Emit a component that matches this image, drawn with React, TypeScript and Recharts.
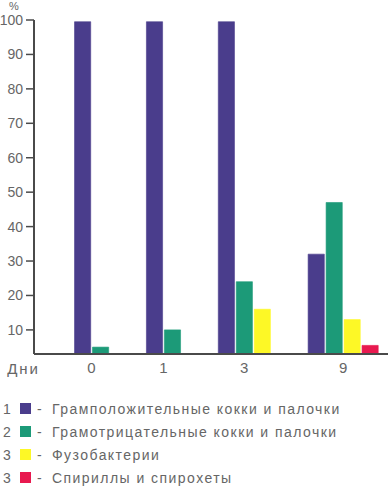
import React from 'react';
import { BarChart, Bar, XAxis, YAxis, Cell } from 'recharts';

const days = ['0', '1', '3', '9'];
const gramPositive = [99.5, 99.5, 99.5, 32];
const gramNegative = [5, 10, 24, 47];
const fusobacteria: (number | null)[] = [null, null, 16, 13];
const spirilla: (number | null)[] = [null, null, null, 5.5];
const yTicks = [10, 20, 30, 40, 50, 60, 70, 80, 90, 100];

const seriesNames = [
  'Грамположительные кокки и палочки',
  'Грамотрицательные кокки и палочки',
  'Фузобактерии',
  'Спириллы и спирохеты',
];
const legendNumbers = ['1', '2', '3', '3'];
const colors = ['#4a3d8c', '#1c9a78', '#fdf826', '#e8194f'];

const seriesValues = [gramPositive, gramNegative, fusobacteria, spirilla];

// Build bar slots: each non-empty value gets a slot; groups separated by 2 empty slots
type Slot = { pos: number; value: number; series: number; day: string };
const slots: Slot[] = [];
const groupCenters: number[] = [];
let cursor = 0;
days.forEach((d, i) => {
  const start = cursor;
  seriesValues.forEach((vals, s) => {
    const v = vals[i];
    if (v !== null && v !== undefined) {
      slots.push({ pos: cursor, value: v, series: s, day: d });
      cursor += 1;
    }
  });
  groupCenters.push((start + cursor - 1) / 2);
  cursor += 2;
});

const textColor = '#666666';
const axisColor = '#4a4a4a';
const font = '"Liberation Sans", Arial, sans-serif';

export default function App() {
  return (
    <div style={{ position: 'absolute', left: 0, top: 0, width: 390, height: 500, background: '#fff', fontFamily: font }}>
      <BarChart
        width={390}
        height={390}
        data={slots}
        margin={{ top: 20, right: 2, bottom: 6, left: 0 }}
      >
        <YAxis
          type="number"
          domain={[3, 100]}
          allowDataOverflow
          ticks={yTicks}
          width={34}
          axisLine={{ stroke: axisColor, strokeWidth: 2 }}
          tickLine={{ stroke: axisColor, strokeWidth: 1.5 }}
          tickSize={8}
          tickMargin={3}
          tick={{ fill: textColor, fontSize: 14, fontFamily: font }}
          label={{ value: '%', position: 'top', offset: 10, fill: textColor, fontSize: 11, fontFamily: font, dx: -3 }}
        />
        <XAxis
          type="number"
          dataKey="pos"
          domain={[-2.7, 17]}
          ticks={groupCenters}
          tickFormatter={(v: number) => days[groupCenters.indexOf(v)] ?? ''}
          interval={0}
          axisLine={{ stroke: axisColor, strokeWidth: 2 }}
          tickLine={false}
          tickSize={6}
          tickMargin={2}
          tick={{ fill: textColor, fontSize: 15, fontFamily: font }}
          height={30}
          label={{ value: 'Дни', position: 'left', offset: -6, fill: textColor, fontSize: 15, fontFamily: font, letterSpacing: 2 }}
        />
        <Bar dataKey="value" barSize={18} isAnimationActive={false}>
          {slots.map((s, i) => (
            <Cell key={i} fill={colors[s.series]} stroke={colors[s.series]} strokeWidth={0.6} />
          ))}
        </Bar>
      </BarChart>
      <div style={{ position: 'absolute', left: 0, top: 397, width: 390 }}>
        {seriesNames.map((name, i) => (
          <div
            key={i}
            style={{ display: 'flex', alignItems: 'center', height: 23, color: textColor, fontSize: 14, whiteSpace: 'nowrap' }}
          >
            <span style={{ display: 'inline-block', width: 13, marginLeft: 3 }}>{legendNumbers[i]}</span>
            <span style={{ display: 'inline-block', width: 11, height: 11, background: colors[i], marginLeft: 4 }} />
            <span style={{ display: 'inline-block', marginLeft: 6, width: 15 }}>-</span>
            <span style={{ letterSpacing: 1.45 }}>{name}</span>
          </div>
        ))}
      </div>
    </div>
  );
}
